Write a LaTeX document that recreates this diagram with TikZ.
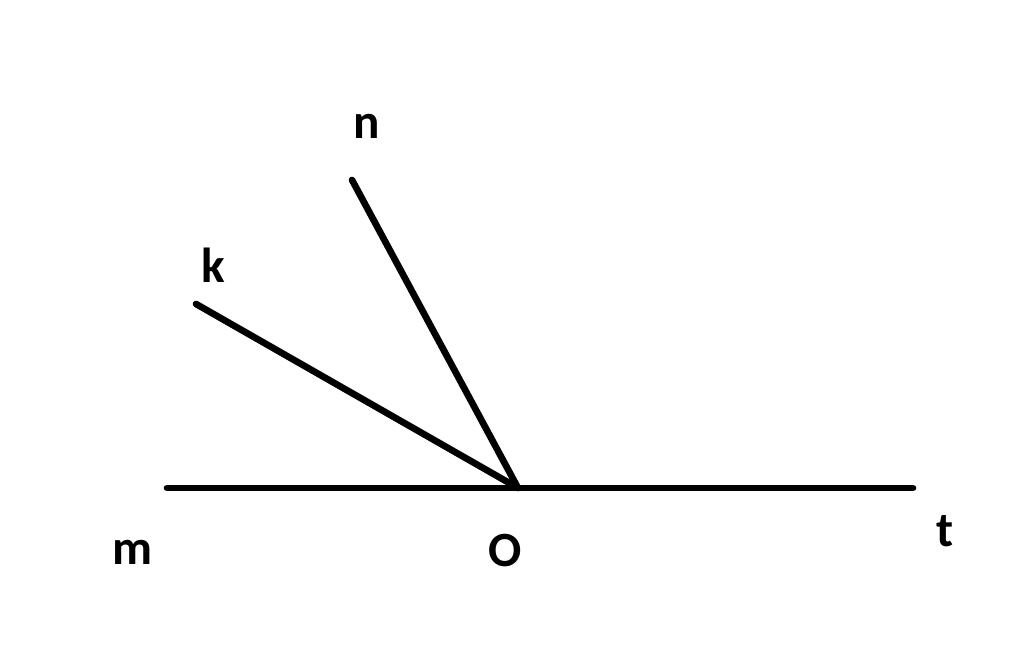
\documentclass[tikz,border=0pt]{standalone}
\usepackage{fontspec}
\setmainfont{Carlito}
\usetikzlibrary{calc}

\begin{document}
\begin{tikzpicture}[line width=1.9pt,line cap=round,
    lbl/.style={font=\fontsize{14}{16}\selectfont\bfseries}]
        \useasboundingbox (0,0) rectangle (10.24,6.48);
        \coordinate (O) at (5.18,1.60);
        \coordinate (M) at (1.67,1.60);
        \coordinate (T) at (9.13,1.60);
        \coordinate (K) at (1.96,3.44);
        \coordinate (N) at (3.52,4.68);
        \draw (M)--(T);
        \draw (O)--(K);
        \draw (O)--(N);
        \node[lbl] (lm) at (1.33,0.96) {m};
        \node[lbl] (lo) at (5.05,0.97) {O};
        \node[lbl] (lt) at (9.45,1.17) {t};
        \node[lbl] (lk) at (2.13,3.83) {k};
        \node[lbl] (ln) at (3.67,5.22) {n};
      \end{tikzpicture}
\end{document}
